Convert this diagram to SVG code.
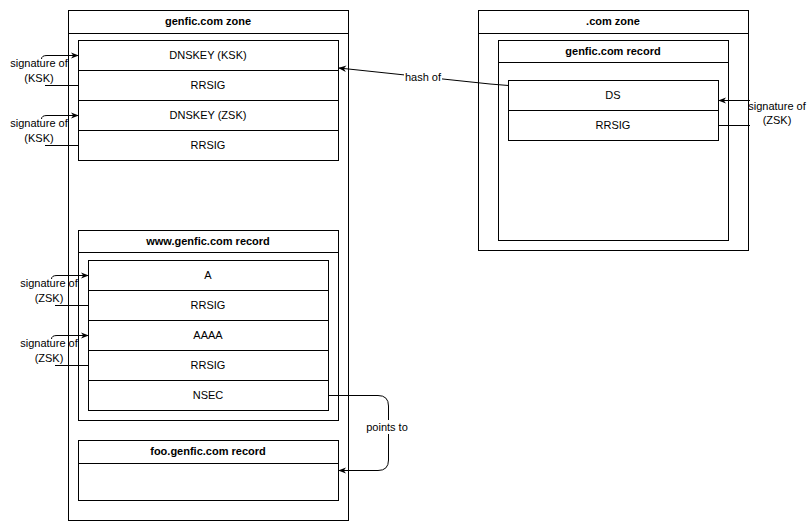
<svg xmlns="http://www.w3.org/2000/svg" width="807" height="530" viewBox="0 0 807 530">
<style>
.b{fill:#fff;stroke:#000;stroke-width:1}
.l{fill:none;stroke:#000;stroke-width:1}
.t{font-family:"Liberation Sans",Arial,sans-serif;font-size:11px;fill:#000;text-anchor:middle}
.h{font-weight:bold}
.c{fill:none;stroke:#000;stroke-width:1}
</style>
<defs>
<marker id="ar" viewBox="0 0 10 10" refX="9" refY="5" markerWidth="8" markerHeight="8" markerUnits="userSpaceOnUse" orient="auto">
<path d="M0,1 L10,5 L0,9 L3,5 Z" fill="#000"/>
</marker>
</defs>
<rect width="807" height="530" fill="#fff"/>
<g id="genfic-zone">
<rect class="b" x="68.5" y="10.5" width="280" height="510"/>
<line class="l" x1="68.5" y1="33.5" x2="348.5" y2="33.5"/>
<text class="t h" x="208" y="25">genfic.com zone</text>
</g>
<g id="dnskey-box">
<rect class="b" x="78.5" y="40.5" width="260" height="120"/>
<line class="l" x1="78.5" y1="70.5" x2="338.5" y2="70.5"/>
<line class="l" x1="78.5" y1="100.5" x2="338.5" y2="100.5"/>
<line class="l" x1="78.5" y1="130.5" x2="338.5" y2="130.5"/>
<text class="t" x="208" y="59">DNSKEY (KSK)</text>
<text class="t" x="208" y="89">RRSIG</text>
<text class="t" x="208" y="119">DNSKEY (ZSK)</text>
<text class="t" x="208" y="149">RRSIG</text>
</g>
<g id="www-record">
<rect class="b" x="78.5" y="230.5" width="260" height="190"/>
<line class="l" x1="78.5" y1="252.5" x2="338.5" y2="252.5"/>
<text class="t h" x="208" y="245">www.genfic.com record</text>
<rect class="b" x="88.5" y="260.5" width="240" height="150"/>
<line class="l" x1="88.5" y1="290.5" x2="328.5" y2="290.5"/>
<line class="l" x1="88.5" y1="320.5" x2="328.5" y2="320.5"/>
<line class="l" x1="88.5" y1="350.5" x2="328.5" y2="350.5"/>
<line class="l" x1="88.5" y1="380.5" x2="328.5" y2="380.5"/>
<text class="t" x="208" y="279">A</text>
<text class="t" x="208" y="309">RRSIG</text>
<text class="t" x="208" y="339">AAAA</text>
<text class="t" x="208" y="369">RRSIG</text>
<text class="t" x="208" y="399">NSEC</text>
</g>
<g id="foo-record">
<rect class="b" x="78.5" y="440.5" width="260" height="60"/>
<line class="l" x1="78.5" y1="463.5" x2="338.5" y2="463.5"/>
<text class="t h" x="208" y="455">foo.genfic.com record</text>
</g>
<g id="com-zone">
<rect class="b" x="478.5" y="10.5" width="270" height="240"/>
<line class="l" x1="478.5" y1="33.5" x2="748.5" y2="33.5"/>
<text class="t h" x="613" y="25">.com zone</text>
</g>
<g id="genfic-record">
<rect class="b" x="498.5" y="40.5" width="230" height="200"/>
<line class="l" x1="498.5" y1="62.5" x2="728.5" y2="62.5"/>
<text class="t h" x="613" y="55">genfic.com record</text>
<rect class="b" x="508.5" y="80.5" width="210" height="60"/>
<line class="l" x1="508.5" y1="110.5" x2="718.5" y2="110.5"/>
<text class="t" x="613" y="99">DS</text>
<text class="t" x="613" y="129">RRSIG</text>
</g>
<g id="connectors">
<path class="c" d="M78.5,85.5 L45,85.5"/>
<path class="c" d="M41.5,59 Q41.5,55.5 47,55.5 L78,55.5" marker-end="url(#ar)"/>
<path class="c" d="M78.5,145.5 L45,145.5"/>
<path class="c" d="M41.5,119 Q41.5,115.5 47,115.5 L78,115.5" marker-end="url(#ar)"/>
<path class="c" d="M88.5,305.5 L55,305.5"/>
<path class="c" d="M51.5,279 Q51.5,275.5 57,275.5 L88,275.5" marker-end="url(#ar)"/>
<path class="c" d="M88.5,365.5 L55,365.5"/>
<path class="c" d="M51.5,339 Q51.5,335.5 57,335.5 L88,335.5" marker-end="url(#ar)"/>
<path class="c" d="M718.5,125.5 L750,125.5"/>
<path class="c" d="M750,100.5 L719,100.5" marker-end="url(#ar)"/>
<path class="c" d="M508.5,85.5 L490,84 L339,68" marker-end="url(#ar)"/>
<rect x="404" y="70" width="38" height="14" fill="#fff"/>
<path class="c" d="M328.5,395.5 L378,395.5 Q388.5,395.5 388.5,406 L388.5,460 Q388.5,470.5 378,470.5 L339,470.5" marker-end="url(#ar)"/>
<rect x="365" y="420" width="46" height="14" fill="#fff"/>
</g>
<g id="labels">
<text class="t" x="39" y="67">signature of</text>
<text class="t" x="39" y="82">(KSK)</text>
<text class="t" x="39" y="127">signature of</text>
<text class="t" x="39" y="142">(KSK)</text>
<text class="t" x="49" y="287">signature of</text>
<text class="t" x="49" y="302">(ZSK)</text>
<text class="t" x="49" y="347">signature of</text>
<text class="t" x="49" y="362">(ZSK)</text>
<text class="t" x="777" y="110">signature of</text>
<text class="t" x="777" y="124">(ZSK)</text>
<text class="t" x="423" y="81">hash of</text>
<text class="t" x="387" y="431">points to</text>
</g>
</svg>
